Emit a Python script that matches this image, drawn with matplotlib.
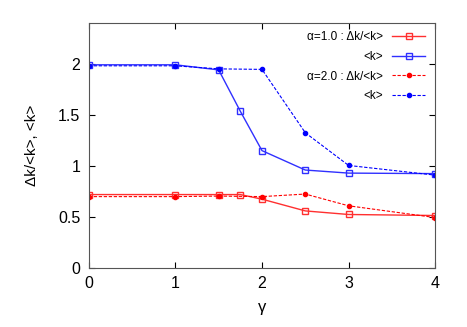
import matplotlib
matplotlib.use('Agg')
import matplotlib.pyplot as plt

plt.rcParams['font.family'] = ['Liberation Sans', 'DejaVu Sans']

# alpha = 1.0
gamma_a1 = [0, 1, 1.5, 1.75, 2, 2.5, 3, 4]
dk_a1 = [0.72, 0.72, 0.72, 0.72, 0.675, 0.56, 0.525, 0.515]
k_a1 = [1.99, 1.99, 1.94, 1.535, 1.15, 0.96, 0.93, 0.925]

# alpha = 2.0
gamma_a2 = [0, 1, 1.5, 2, 2.5, 3, 4]
dk_a2 = [0.70, 0.70, 0.705, 0.70, 0.725, 0.61, 0.495]
k_a2 = [1.98, 1.98, 1.95, 1.945, 1.325, 1.005, 0.91]

fig = plt.figure(figsize=(4.67, 3.27), dpi=100)
ax = fig.add_axes([0.19, 0.18, 0.742, 0.75])

ax.plot(gamma_a1, dk_a1, color='#ff3030', lw=1.0, marker='s', ms=4,
        mfc='none', mew=1.0, label='α=1.0 : Δk/<k>')
ax.plot(gamma_a1, k_a1, color='#3030ff', lw=1.0, marker='s', ms=4,
        mfc='none', mew=1.0, label='<k>')
ax.plot(gamma_a2, dk_a2, color='red', lw=0.8, ls=(0, (3, 1.5)), marker='o',
        ms=3, label='α=2.0 : Δk/<k>')
ax.plot(gamma_a2, k_a2, color='blue', lw=0.8, ls=(0, (3, 1.5)), marker='o',
        ms=3, label='<k>')

ax.set_xlim(0, 4)
ax.set_ylim(0, 2.4)
ax.set_xticks([0, 1, 2, 3, 4])
ax.set_yticks([0, 0.5, 1, 1.5, 2])
ax.set_yticklabels(['0', '0.5', '1', '1.5', '2'])
ax.tick_params(direction='in', top=True, right=True, labelsize=11.5, length=4,
               pad=6)
for s in ax.spines.values():
    s.set_color('#555555')

ax.set_xlabel('γ', fontsize=12, labelpad=6)
ax.set_ylabel('Δk/<k>, <k>', fontsize=11, labelpad=14)

ax.legend(loc='upper right', frameon=False, markerfirst=False, fontsize=8.5,
          handlelength=2.8, labelspacing=0.65, borderaxespad=0.3,
          bbox_to_anchor=(0.995, 1.0))

fig.savefig('out.png', dpi=100)
